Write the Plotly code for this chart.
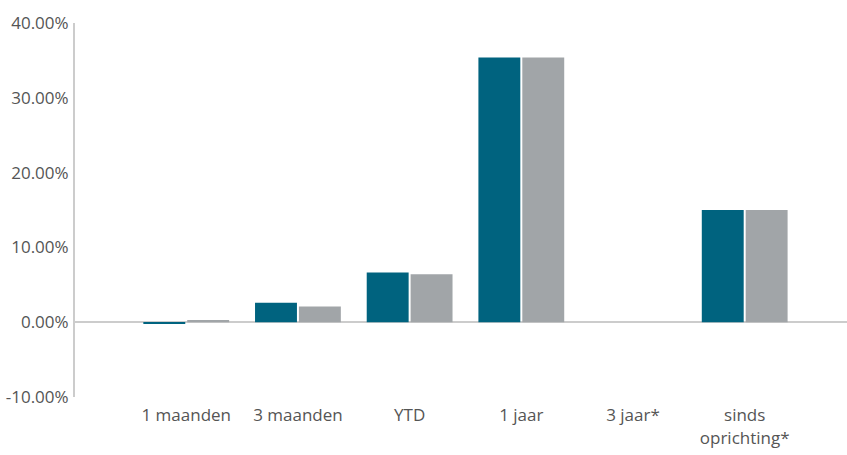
import plotly.graph_objects as go

categories = ["1 maanden", "3 maanden", "YTD", "1 jaar", "3 jaar*", "sinds<br>oprichting*"]
fund_values = [-0.15, 2.6, 6.65, 35.4, None, 15.0]
benchmark_values = [0.3, 2.1, 6.4, 35.4, None, 15.0]
y_tick_vals = [-10, 0, 10, 20, 30, 40]
y_tick_text = ["-10.00%", "0.00%", "10.00%", "20.00%", "30.00%", "40.00%"]

fig = go.Figure()
fig.add_trace(go.Bar(x=categories, y=fund_values, name="Fonds",
                     marker=dict(color="#00637F", line=dict(width=0))))
fig.add_trace(go.Bar(x=categories, y=benchmark_values, name="Benchmark",
                     marker=dict(color="#A1A5A8", line=dict(width=0))))

fig.update_layout(
    width=847, height=455,
    margin=dict(l=75, r=0, t=23, b=58),
    paper_bgcolor="white", plot_bgcolor="white",
    barmode="group", bargap=0.214, bargroupgap=0.045,
    showlegend=False,
    font=dict(family="Open Sans, sans-serif", size=17, color="#555555"),
)
fig.update_xaxes(
    type="category", range=[-0.996, 5.916], automargin=False,
    showline=False, showgrid=False, zeroline=False,
    ticks="outside", ticklen=3, tickcolor="rgba(0,0,0,0)",
    tickfont=dict(size=17, color="#555555"),
)
fig.update_yaxes(
    range=[-10, 40], tickvals=y_tick_vals, ticktext=y_tick_text, automargin=False,
    showgrid=False, showline=True, linecolor="#CCCCCC", linewidth=2,
    zeroline=True, zerolinecolor="#CCCCCC", zerolinewidth=2,
    ticks="", ticklabelstandoff=1,
    tickfont=dict(size=17, color="#555555"),
)

fig.write_html(
    "out.html",
    config={"displayModeBar": False},
    post_script="document.body.style.margin='0';document.body.style.overflow='hidden';",
)
